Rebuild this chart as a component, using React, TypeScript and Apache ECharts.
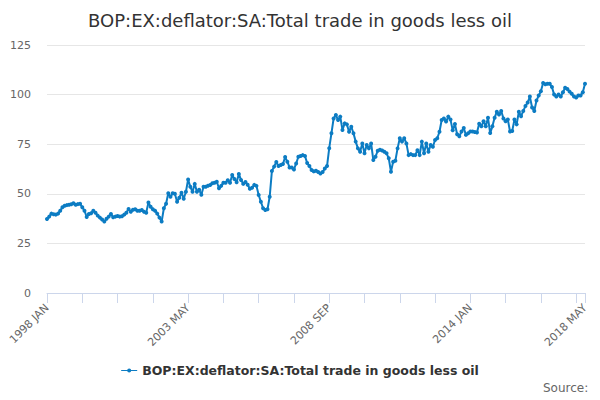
import React, { useEffect, useRef } from 'react';
import * as echarts from 'echarts';

const TITLE = 'BOP:EX:deflator:SA:Total trade in goods less oil';
const MONTHS = ['JAN', 'FEB', 'MAR', 'APR', 'MAY', 'JUN', 'JUL', 'AUG', 'SEP', 'OCT', 'NOV', 'DEC'];
const START_YEAR = 1998;
const MONTH_COUNT = 245; // 1998 JAN .. 2018 MAY
const yTicks = [0, 25, 50, 75, 100, 125];

// monthly values
const values = [
  37.3, 38.5, 40.0, 39.7, 39.5, 40.0, 41.5, 43.2, 44.0, 44.3,
  44.5, 44.7, 45.2, 44.5, 44.8, 45.0, 43.2, 41.5, 38.3, 39.8,
  40.2, 41.5, 40.5, 39.0, 38.0, 37.0, 36.0, 37.4, 38.5, 39.8,
  38.2, 38.5, 38.8, 38.5, 38.7, 39.5, 40.5, 42.3, 41.0, 42.0,
  42.2, 41.5, 41.5, 41.8, 41.0, 40.5, 45.6, 43.5, 42.2, 41.5,
  40.0, 38.0, 36.0, 42.7, 45.0, 50.3, 48.5, 50.3, 50.0, 46.0,
  48.0, 50.5, 47.5, 51.0, 57.2, 53.5, 51.0, 55.0, 51.0, 52.0,
  49.5, 53.6, 53.6, 54.1, 54.4, 55.3, 55.6, 56.1, 52.8, 54.0,
  55.6, 55.6, 56.8, 55.6, 59.5, 57.5, 55.8, 60.0, 57.0, 55.0,
  56.0, 54.6, 52.5, 53.0, 54.5, 54.0, 49.4, 46.0, 42.7, 41.8,
  42.2, 48.5, 61.5, 63.7, 66.0, 64.0, 64.5, 65.0, 68.5, 66.2,
  63.3, 63.3, 62.3, 65.3, 68.7, 69.0, 69.5, 69.0, 65.5, 64.0,
  62.0, 61.3, 61.6, 61.0, 60.2, 61.0, 62.8, 64.0, 73.0, 80.5,
  88.0, 89.7, 87.2, 88.9, 82.2, 85.5, 85.0, 81.3, 83.8, 80.5,
  76.3, 72.9, 71.2, 75.4, 70.4, 74.6, 72.9, 75.4, 67.0, 68.7,
  71.7, 72.2, 71.8, 71.2, 70.4, 67.9, 61.1, 66.2, 66.7, 72.9,
  78.0, 76.3, 78.0, 75.4, 69.5, 70.0, 69.5, 69.5, 72.0, 69.5,
  76.3, 70.4, 75.4, 71.2, 74.6, 73.7, 77.1, 78.0, 81.3, 87.2,
  88.0, 86.4, 88.9, 87.4, 82.0, 85.2, 80.0, 79.0, 81.4, 83.2,
  79.7, 80.5, 81.4, 81.4, 81.2, 80.9, 85.3, 84.0, 86.6, 84.0,
  88.3, 80.6, 84.0, 88.3, 91.4, 90.0, 91.7, 88.0, 86.6, 87.4,
  81.4, 81.7, 87.4, 85.0, 91.4, 89.1, 91.7, 94.3, 96.0, 99.0,
  93.5, 91.7, 97.0, 99.5, 101.7, 105.8, 105.2, 105.5, 105.5, 103.8,
  100.0, 99.0, 100.0, 99.0, 101.2, 103.4, 102.8, 101.5, 100.4, 99.0,
  98.5, 99.5, 99.5, 101.2, 105.5,
];

const categories: string[] = [];
for (let i = 0; i < MONTH_COUNT; i++) {
  categories.push(`${START_YEAR + Math.floor(i / 12)} ${MONTHS[i % 12]}`);
}

const LINE_COLOR = '#0c7cc3';
const FONT = '"DejaVu Sans", Verdana, sans-serif';

const App: React.FC = () => {
  const chartRef = useRef<HTMLDivElement | null>(null);

  useEffect(() => {
    if (!chartRef.current) return;
    const chart = echarts.init(chartRef.current, undefined, { renderer: 'svg' });
    const last = categories.length - 1;

    const option: echarts.EChartsOption = {
      animation: false,
      backgroundColor: '#fff',
      textStyle: { fontFamily: FONT },
      title: {
        text: TITLE,
        left: 'center',
        top: 6,
        textStyle: { fontSize: 18, fontWeight: 'normal', color: '#333', fontFamily: FONT },
      },
      legend: {
        bottom: 18,
        left: 'center',
        itemWidth: 16,
        itemHeight: 4,
        icon: 'path://M0,1.5 L16,1.5 L16,2.5 L0,2.5 Z M8,0 A2,2 0 1,1 8,4 A2,2 0 1,1 8,0 Z',
        textStyle: { fontSize: 12.5, fontWeight: 'bold', color: '#333', fontFamily: FONT },
        data: [TITLE],
      },
      grid: { left: 47, right: 15, top: 45, bottom: 107 },
      xAxis: {
        type: 'category',
        data: categories,
        boundaryGap: false,
        axisLine: { lineStyle: { color: '#ccd6eb' } },
        axisTick: {
          length: 10,
          lineStyle: { color: '#ccd6eb' },
          interval: (i: number) => i % 16 === 0 || i === last,
        },
        axisLabel: {
          rotate: 45,
          fontSize: 11,
          color: '#666',
          margin: 13,
          interval: (i: number) => i % 64 === 0 || i === last,
        },
      },
      yAxis: {
        type: 'value',
        min: yTicks[0],
        max: yTicks[yTicks.length - 1],
        interval: 25,
        axisLine: { show: false },
        axisTick: { show: false },
        splitLine: { lineStyle: { color: '#e6e6e6' } },
        axisLabel: { fontSize: 11, color: '#666', margin: 16 },
      },
      series: [
        {
          name: TITLE,
          type: 'line',
          data: values,
          color: LINE_COLOR,
          symbol: 'circle',
          symbolSize: 4,
          showAllSymbol: true,
          lineStyle: { width: 2, color: LINE_COLOR },
          itemStyle: { color: LINE_COLOR },
        },
      ],
      graphic: [
        {
          type: 'text',
          left: 543,
          top: 382,
          style: { text: 'Source:', fontSize: 12, fill: '#666', fontFamily: FONT },
        },
      ],
    };

    chart.setOption(option);
    return () => {
      chart.dispose();
    };
  }, []);

  return <div ref={chartRef} style={{ width: 600, height: 400, margin: -8 }} />;
};

export default App;
